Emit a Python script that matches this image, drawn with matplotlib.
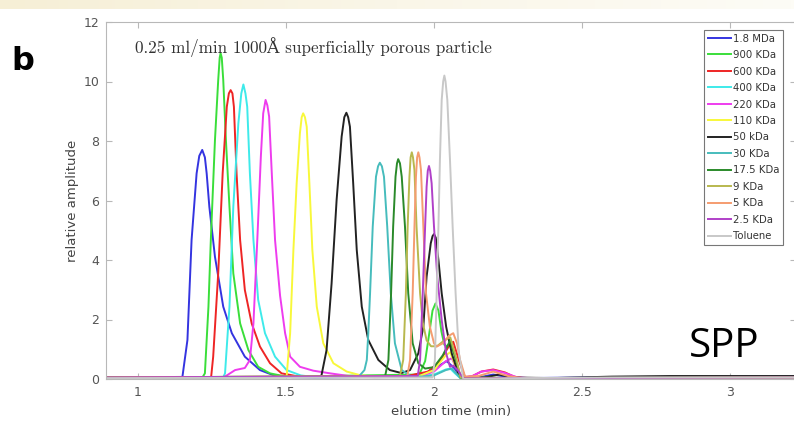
import matplotlib
matplotlib.use("Agg")
import matplotlib.pyplot as plt
import numpy as np
from matplotlib.colors import LinearSegmentedColormap

# ---------------- data ----------------
labels = ["1.8 MDa", "900 KDa", "600 KDa", "400 KDa", "220 KDa", "110 KDa", "50 kDa",
          "30 KDa", "17.5 KDa", "9 KDa", "5 KDa", "2.5 KDa", "Toluene"]
colors = ["#3434e0", "#3ade3a", "#ee2525", "#3eeaea", "#ee3cee", "#f8f83a", "#222222",
          "#46bcbc", "#2a8a2a", "#b8b84e", "#f59c70", "#b040c8", "#c8c8c8"]

t_18M = [0.89, 1.15, 1.167, 1.181, 1.198, 1.207, 1.217, 1.226, 1.232, 1.241, 1.260, 1.288, 1.317,
         1.361, 1.412, 1.457, 1.52, 1.6, 1.9, 1.97, 2.0, 2.043, 2.07, 2.09, 2.15, 2.2, 2.26, 2.3, 2.6, 3.23]
a_18M = [0.05, 0.07, 1.31, 4.67, 6.91, 7.5, 7.70, 7.45, 6.91, 5.79, 4.11, 2.43, 1.54,
         0.75, 0.30, 0.13, 0.06, 0.05, 0.08, 0.2, 0.35, 0.6, 0.35, 0.03, 0.05, 0.15, 0.05, 0.03, 0.06, 0.08]

t_900K = [0.89, 1.218, 1.226, 1.238, 1.246, 1.260, 1.271, 1.276, 1.279, 1.283, 1.288, 1.297, 1.309,
          1.322, 1.345, 1.373, 1.406, 1.446, 1.5, 1.95, 1.97, 1.985, 1.995, 2.005, 2.015, 2.025,
          2.035, 2.045, 2.055, 2.07, 2.085, 2.1, 2.3, 3.23]
a_900K = [0.05, 0.06, 0.19, 2.43, 4.67, 8.03, 10.05, 10.8, 10.95, 10.8, 10.05, 8.03, 5.79,
          3.55, 1.87, 0.97, 0.41, 0.19, 0.08, 0.15, 0.6, 1.6, 2.3, 2.54, 2.3, 1.6,
          1.15, 1.1, 1.2, 0.8, 0.15, 0.02, 0.03, 0.05]

t_600K = [0.89, 1.247, 1.254, 1.271, 1.286, 1.300, 1.307, 1.313, 1.319, 1.324, 1.333, 1.345, 1.361,
          1.384, 1.412, 1.446, 1.485, 1.55, 1.9, 1.98, 2.02, 2.05, 2.065, 2.085, 2.105, 2.13,
          2.16, 2.2, 2.24, 2.27, 2.3, 3.23]
a_600K = [0.05, 0.06, 0.75, 3.55, 6.91, 9.15, 9.6, 9.71, 9.6, 9.15, 6.91, 4.67, 2.99,
          1.87, 1.09, 0.53, 0.19, 0.07, 0.08, 0.25, 0.6, 1.1, 1.25, 0.6, 0.05, 0.1,
          0.25, 0.32, 0.22, 0.08, 0.03, 0.05]

t_400K = [0.89, 1.288, 1.294, 1.309, 1.322, 1.339, 1.349, 1.356, 1.363, 1.369, 1.378, 1.390, 1.406,
          1.429, 1.463, 1.502, 1.55, 1.6, 1.95, 2.0, 2.04, 2.055, 2.07, 2.09, 2.3, 3.23]
a_400K = [0.05, 0.06, 0.19, 2.43, 5.79, 8.59, 9.6, 9.9, 9.6, 9.15, 6.91, 4.67, 2.66,
          1.54, 0.75, 0.30, 0.12, 0.06, 0.08, 0.15, 0.32, 0.35, 0.2, 0.02, 0.03, 0.05]

t_220K = [0.89, 1.29, 1.30, 1.328, 1.361, 1.378, 1.390, 1.403, 1.415, 1.423, 1.431, 1.437, 1.443,
          1.452, 1.463, 1.480, 1.497, 1.514, 1.547, 1.592, 1.649, 1.727, 1.8, 1.95, 2.0, 2.04,
          2.06, 2.09, 2.13, 2.16, 2.2, 2.24, 2.28, 2.32, 3.23]
a_220K = [0.05, 0.06, 0.12, 0.30, 0.37, 0.64, 1.87, 4.67, 7.47, 8.93, 9.38, 9.2, 8.82,
          6.91, 4.67, 2.8, 1.54, 0.75, 0.41, 0.28, 0.19, 0.08, 0.06, 0.08, 0.25, 0.6,
          0.7, 0.05, 0.1, 0.25, 0.3, 0.2, 0.06, 0.03, 0.05]

t_110K = [0.89, 1.495, 1.502, 1.514, 1.525, 1.536, 1.547, 1.553, 1.558, 1.564, 1.570, 1.579, 1.589,
          1.604, 1.626, 1.660, 1.705, 1.75, 1.8, 1.95, 2.0, 2.04, 2.055, 2.07, 2.09, 2.3, 3.23]
a_110K = [0.05, 0.06, 0.08, 1.54, 4.34, 6.58, 8.26, 8.8, 8.93, 8.8, 8.48, 6.58, 4.34,
          2.43, 1.2, 0.53, 0.25, 0.13, 0.07, 0.1, 0.3, 0.8, 0.9, 0.5, 0.03, 0.03, 0.05]

t_50K = [0.89, 1.615, 1.620, 1.637, 1.654, 1.671, 1.688, 1.697, 1.704, 1.710, 1.716, 1.727, 1.739,
         1.756, 1.778, 1.812, 1.851, 1.89, 1.919, 1.947, 1.964, 1.975, 1.989, 1.995, 2.0, 2.006,
         2.015, 2.026, 2.041, 2.06, 2.082, 2.1, 2.17, 2.22, 2.27, 2.4, 2.6, 2.8, 3.0, 3.23]
a_50K = [0.06, 0.07, 0.13, 0.97, 3.21, 6.02, 8.15, 8.8, 8.95, 8.8, 8.48, 6.58, 4.34,
         2.43, 1.31, 0.64, 0.30, 0.2, 0.30, 0.86, 1.76, 3.44, 4.56, 4.8, 4.87, 4.75,
         4.0, 2.88, 1.76, 0.86, 0.19, 0.05, 0.05, 0.15, 0.05, 0.03, 0.08, 0.1, 0.1, 0.1]

t_30K = [0.89, 1.745, 1.765, 1.773, 1.778, 1.784, 1.793, 1.804, 1.811, 1.817, 1.824, 1.831, 1.842,
         1.854, 1.868, 1.891, 1.92, 1.96, 2.0, 2.04, 2.06, 2.09, 2.3, 3.23]
a_30K = [0.05, 0.07, 0.3, 0.64, 1.54, 2.88, 5.12, 6.8, 7.15, 7.27, 7.15, 6.8, 5.12,
         2.88, 1.2, 0.3, 0.1, 0.08, 0.12, 0.3, 0.35, 0.02, 0.03, 0.05]

t_17K = [0.89, 1.835, 1.846, 1.855, 1.862, 1.870, 1.875, 1.879, 1.885, 1.891, 1.902, 1.913, 1.928,
         1.947, 1.97, 2.0, 2.03, 2.055, 2.07, 2.09, 2.3, 3.23]
a_17K = [0.05, 0.1, 0.64, 2.88, 5.12, 6.8, 7.25, 7.39, 7.25, 6.8, 5.12, 2.88, 1.2,
         0.53, 0.35, 0.4, 0.8, 1.3, 0.8, 0.05, 0.03, 0.05]

t_9K = [0.89, 1.885, 1.896, 1.905, 1.911, 1.917, 1.921, 1.925, 1.929, 1.934, 1.941, 1.953, 1.962,
        1.975, 1.99, 2.01, 2.035, 2.055, 2.075, 2.09, 2.3, 3.23]
a_9K = [0.05, 0.1, 0.64, 2.88, 5.12, 6.8, 7.45, 7.62, 7.45, 7.02, 5.12, 2.88, 1.9,
        1.3, 1.1, 1.1, 1.3, 1.4, 0.7, 0.05, 0.03, 0.05]

t_5K = [0.89, 1.91, 1.919, 1.928, 1.934, 1.939, 1.943, 1.947, 1.951, 1.956, 1.964, 1.973, 1.986,
        2.0, 2.009, 2.03, 2.05, 2.065, 2.078, 2.088, 2.105, 2.15, 2.2, 2.25, 2.3, 3.23]
a_5K = [0.05, 0.1, 0.64, 2.88, 5.12, 6.8, 7.45, 7.62, 7.45, 7.02, 5.12, 2.88, 1.76,
        1.2, 1.09, 1.2, 1.45, 1.54, 1.2, 0.64, 0.08, 0.1, 0.25, 0.1, 0.03, 0.05]

t_2K = [0.89, 1.945, 1.953, 1.962, 1.970, 1.975, 1.979, 1.983, 1.987, 1.992, 2.0, 2.011, 2.026,
        2.041, 2.054, 2.065, 2.08, 2.1, 2.3, 3.23]
a_2K = [0.05, 0.1, 0.64, 2.88, 5.12, 6.46, 7.0, 7.16, 7.0, 6.58, 5.12, 3.44, 1.98,
        0.86, 0.41, 0.45, 0.3, 0.02, 0.03, 0.05]

t_tol = [0.89, 1.995, 2.003, 2.009, 2.015, 2.020, 2.026, 2.031, 2.035, 2.039, 2.045, 2.054, 2.063,
         2.073, 2.084, 2.099, 2.3, 2.6, 3.23]
a_tol = [0.03, 0.05, 0.64, 2.88, 5.12, 7.36, 9.38, 10.0, 10.2, 10.0, 9.38, 7.36, 5.12,
         2.88, 0.86, 0.0, 0.03, 0.05, 0.05]

series_t = [t_18M, t_900K, t_600K, t_400K, t_220K, t_110K, t_50K, t_30K, t_17K, t_9K, t_5K, t_2K, t_tol]
series_a = [a_18M, a_900K, a_600K, a_400K, a_220K, a_110K, a_50K, a_30K, a_17K, a_9K, a_5K, a_2K, a_tol]

xticks = [1, 1.5, 2, 2.5, 3]
xticklabels = ["1", "1.5", "2", "2.5", "3"]
yticks = [0, 2, 4, 6, 8, 10, 12]

# ---------------- figure ----------------
W, H = 794, 421
fig = plt.figure(figsize=(W / 100, H / 100), dpi=100)
fig.patch.set_facecolor("white")

# top beige banner
band = fig.add_axes([0, 1 - 9 / H, 1, 9 / H])
grad = np.linspace(0, 1, 256)[None, :]
cm = LinearSegmentedColormap.from_list("b", ["#f6efd6", "#faf6e8", "#fdfcf6"])
band.imshow(grad, aspect="auto", cmap=cm, extent=[0, 1, 0, 1])
band.axis("off")

ax_l, ax_r = 106, 796
ax_t, ax_b = 22, 379
ax = fig.add_axes([ax_l / W, 1 - ax_b / H, (ax_r - ax_l) / W, (ax_b - ax_t) / H])

for t, a, c, lab in zip(series_t, series_a, colors, labels):
    ax.plot(t, a, color=c, lw=1.4, label=lab, solid_joinstyle="round")

x0 = 1 - (138 - ax_l) / 296
x1 = 1 + (ax_r - 138) / 296
ax.set_xlim(x0, x1)
ax.set_ylim(0, 12)
ax.set_xticks(xticks)
ax.set_xticklabels(xticklabels)
ax.set_yticks(yticks)

spc = "#b8b8b8"
for s in ax.spines.values():
    s.set_color(spc)
    s.set_linewidth(0.8)
ax.tick_params(direction="in", length=4, width=0.8, colors=spc, top=True, right=True,
               labelcolor="#555555", labelsize=9, pad=5)

ax.set_xlabel("elution time (min)", fontsize=9.5, color="#444444", labelpad=4)
ax.set_ylabel("relative amplitude", fontsize=9.5, color="#444444", labelpad=3)

leg = ax.legend(loc="upper right", bbox_to_anchor=((783 - ax_l) / (ax_r - ax_l), (ax_b - 30) / (ax_b - ax_t)),
                fontsize=7.3, labelspacing=0.64, handlelength=2.3, handletextpad=0.2,
                borderpad=0.35, borderaxespad=0, frameon=True, fancybox=False)
leg.get_frame().set_edgecolor("#555555")
leg.get_frame().set_linewidth(0.8)
for txt in leg.get_texts():
    txt.set_color("#333333")

fig.text(135 / W, 1 - 47 / H, "0.25 ml/min 1000Å superficially porous particle",
         fontsize=12.3, family=["cmr10", "DejaVu Serif"], color="#333333", va="center", ha="left")

fig.text(11 / W, 1 - 61 / H, "b", fontsize=23, fontweight="bold", family="DejaVu Sans",
         color="black", va="center", ha="left")
fig.text(689 / W, 1 - 347 / H, "SPP", fontsize=29, family="Open Sans", color="black",
         va="center", ha="left")

fig.savefig("out.png", dpi=100)
